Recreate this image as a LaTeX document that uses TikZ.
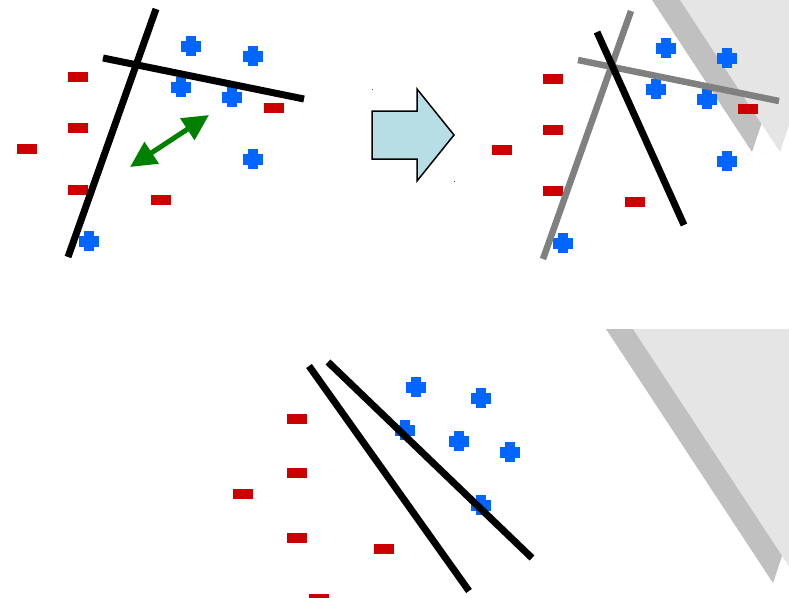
\documentclass[tikz,border=0pt]{standalone}
\usetikzlibrary{arrows.meta}
\definecolor{myred}{RGB}{204,0,0}
\definecolor{myblue}{RGB}{0,102,255}
\definecolor{mygreen}{RGB}{0,128,0}
\definecolor{arrowfill}{RGB}{183,222,229}
\definecolor{shadowgray}{RGB}{192,192,192}
\definecolor{lightgray2}{RGB}{229,229,229}
\tikzset{
  minusmark/.style={fill=myred, draw=none, minimum width=20pt, minimum height=10.5pt, inner sep=0pt, outer sep=0pt},
  plusmark/.style={draw=none, minimum size=20pt, inner sep=0pt, outer sep=0pt,
    path picture={
      \fill[myblue] ([xshift=-5pt]path picture bounding box.north) rectangle ([xshift=5pt]path picture bounding box.south);
      \fill[myblue] ([yshift=5.5pt]path picture bounding box.west) rectangle ([yshift=-5.5pt]path picture bounding box.east);
    }},
  sepline/.style={line width=7pt, black},
  oldline/.style={line width=6.5pt, color={rgb,255:red,128;green,128;blue,128}},
  blockarrow/.style={fill=arrowfill, draw=black, line width=1.5pt, line join=miter},
}
\begin{document}
\begin{tikzpicture}[x=1pt,y=-1pt]
\useasboundingbox (0,0) rectangle (789,597);
% gray background shapes
\begin{scope}
  \clip (0,0) rectangle (789,597);
  \fill[shadowgray] (752,152) -- (652,0) -- (803,0) -- cycle;
  \fill[lightgray2] (780,152) -- (680,0) -- (831,0) -- cycle;
  \fill[shadowgray] (773,583) -- (606,329) -- (858,329) -- cycle;
  \fill[lightgray2] (800,583) -- (633,329) -- (885,329) -- cycle;
\end{scope}

% ---------- top-left panel ----------
\node[minusmark] (tlm1) at (78,77) {};
\node[minusmark] (tlm2) at (78,128) {};
\node[minusmark] (tlm3) at (27,149) {};
\node[minusmark] (tlm4) at (78,190) {};
\node[minusmark] (tlm5) at (161,200) {};
\node[minusmark] (tlm6) at (274,108) {};
\node[plusmark] (tlp1) at (191,46) {};
\node[plusmark] (tlp2) at (253,56) {};
\node[plusmark] (tlp3) at (181,87) {};
\node[plusmark] (tlp4) at (232,97) {};
\node[plusmark] (tlp5) at (253,159) {};
\node[plusmark] (tlp6) at (89,241) {};
\coordinate (tla1) at (156,9);
\coordinate (tla2) at (68,257);
\coordinate (tlb1) at (103,58);
\coordinate (tlb2) at (304,99);
\draw[sepline] (tla1) -- (tla2);
\draw[sepline] (tlb1) -- (tlb2);
\coordinate (ga) at (130,167);
\coordinate (gb) at (209,115);
\draw[mygreen, line width=5pt,
  arrows={Triangle[length=26pt,width=25pt]-Triangle[length=26pt,width=25pt]}] (ga) -- (gb);

% ---------- block arrow ----------
\draw[blockarrow] (372,111) -- (417,111) -- (417,89) -- (454,135) -- (417,181) -- (417,159) -- (372,159) -- cycle;
\fill[black!70] (371.5,88.5) rectangle (372.5,89.5);
\fill[black!70] (453.5,180.5) rectangle (454.5,181.5);

% ---------- top-right panel ----------
\node[minusmark] (trm1) at (553,79) {};
\node[minusmark] (trm2) at (553,130) {};
\node[minusmark] (trm3) at (502,150) {};
\node[minusmark] (trm4) at (553,191) {};
\node[minusmark] (trm5) at (635,202) {};
\node[minusmark] (trm6) at (748,109) {};
\node[plusmark] (trp1) at (666,48) {};
\node[plusmark] (trp2) at (727,58) {};
\node[plusmark] (trp3) at (656,89) {};
\node[plusmark] (trp4) at (707,99) {};
\node[plusmark] (trp5) at (727,161) {};
\node[plusmark] (trp6) at (563,243) {};
\coordinate (tra1) at (631,11);
\coordinate (tra2) at (543,259);
\coordinate (trb1) at (578,60);
\coordinate (trb2) at (779,101);
\coordinate (trc1) at (597,32);
\coordinate (trc2) at (684,225);
\draw[oldline] (tra1) -- (tra2);
\draw[oldline] (trb1) -- (trb2);
\draw[sepline] (trc1) -- (trc2);

% ---------- bottom panel ----------
\node[minusmark] (bm1) at (297,419) {};
\node[minusmark] (bm2) at (297,473) {};
\node[minusmark] (bm3) at (243,494) {};
\node[minusmark] (bm4) at (297,538) {};
\node[minusmark] (bm5) at (384,549) {};
\node[minusmark] (bm6) at (319,599) {};
\node[plusmark] (bp1) at (416,387) {};
\node[plusmark] (bp2) at (481,398) {};
\node[plusmark] (bp3) at (405,430) {};
\node[plusmark] (bp4) at (459,441) {};
\node[plusmark] (bp5) at (510,452) {};
\node[plusmark] (bp6) at (481,505) {};
\coordinate (ba1) at (309,366);
\coordinate (ba2) at (469,591);
\coordinate (bb1) at (328,362);
\coordinate (bb2) at (532,558);
\draw[sepline] (ba1) -- (ba2);
\draw[sepline] (bb1) -- (bb2);
\end{tikzpicture}
\end{document}
